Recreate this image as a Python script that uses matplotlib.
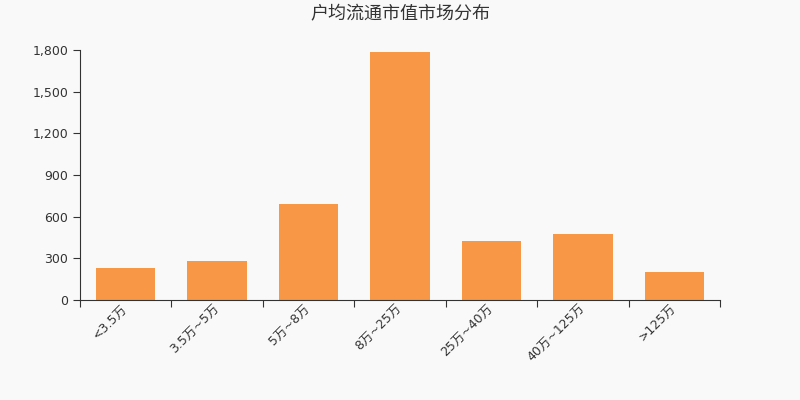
import matplotlib
matplotlib.use('Agg')
import matplotlib.pyplot as plt
from matplotlib.ticker import FuncFormatter

plt.rcParams['font.family'] = ['DejaVu Sans', 'Noto Sans CJK SC']

# 户均流通市值分布
categories = ['<3.5万', '3.5万~5万', '5万~8万', '8万~25万', '25万~40万', '40万~125万', '>125万']
counts = [228, 283, 691, 1783, 427, 472, 204]
y_ticks = [0, 300, 600, 900, 1200, 1500, 1800]

bg = '#f9f9f9'
fig = plt.figure(figsize=(8, 4), dpi=100, facecolor=bg)
ax = fig.add_axes([0.1, 0.25, 0.8, 0.625], facecolor=bg)

pos = [i + 0.5 for i in range(len(categories))]
ax.bar(pos, counts, width=0.65, color='#f89847')

ax.set_xlim(0, len(categories))
ax.set_ylim(0, 1800)
ax.set_yticks(y_ticks)
ax.yaxis.set_major_formatter(FuncFormatter(lambda v, p: f'{int(v):,}'))

ax.set_xticks(range(len(categories) + 1))
ax.set_xticklabels([])
ax.set_xticks(pos, minor=True)
ax.set_xticklabels(categories, minor=True, rotation=45, ha='right', va='center',
                   rotation_mode='anchor')
ax.tick_params(axis='x', which='minor', length=0, pad=5)
ax.tick_params(axis='both', which='major', length=5, color='#333333',
               labelsize=9, labelcolor='#333333')
ax.tick_params(axis='x', which='minor', labelsize=9, labelcolor='#333333')

for s in ['top', 'right']:
    ax.spines[s].set_visible(False)
for s in ['left', 'bottom']:
    ax.spines[s].set_color('#333333')

fig.text(0.5, 0.965, '户均流通市值市场分布', ha='center', va='center',
         fontsize=13, color='#333333', family=['Noto Sans CJK SC', 'DejaVu Sans'])

plt.savefig('out.png', dpi=100, facecolor=bg)
